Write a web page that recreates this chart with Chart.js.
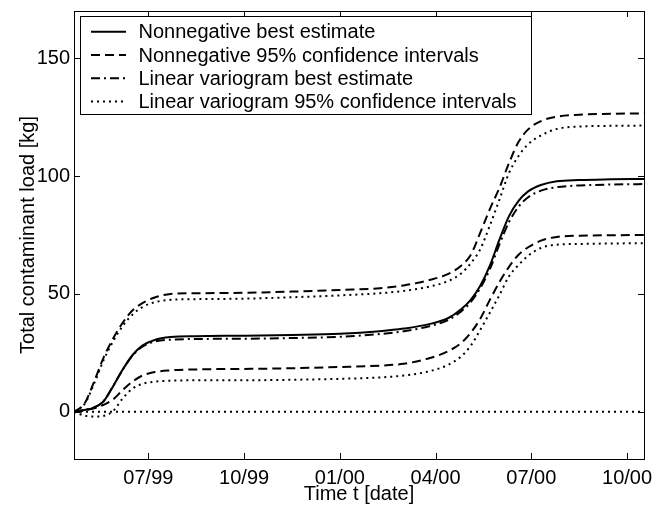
<!DOCTYPE html>
<html>
<head>
<meta charset="utf-8">
<script src="https://cdn.jsdelivr.net/npm/chart.js@4.4.1/dist/chart.umd.min.js"></script>
<style>
  body { margin: 0; background: #fff; }
</style>
</head>
<body>
<canvas id="chart" width="665" height="506"></canvas>
<script>
// Time in months counted from 07/99
const months = [-2.33, -2.0, -1.7, -1.4, -1.1, -0.8, -0.5, -0.2, 0.2, 0.7, 1.5, 3, 4.5, 6, 7.25, 8,
    8.8, 9.4, 9.8, 10.1, 10.4, 10.7, 11.0, 11.3, 11.6, 11.9, 12.3, 12.8, 13.5, 14.5, 15.53];

const nnBest = [0, 0.8, 1.8, 4.5, 11, 18, 24, 28, 30.5, 31.7, 32.1, 32.3, 32.6, 33.1, 34.2, 35.3,
    37.2, 39.8, 43.5, 47.5, 53.5, 62, 73, 83, 89.5, 93.5, 96.2, 97.8, 98.3, 98.6, 98.8];
const nnUpper = [0, 3.5, 12.8, 23.1, 31.2, 37.9, 43, 46, 48.5, 50, 50.3, 50.5, 51, 51.7, 52.4, 53.6,
    55.9, 58.5, 62, 66.5, 76, 86, 95, 105.5, 114.5, 119.8, 123.3, 125.2, 126, 126.4, 126.6];
const nnLower = [0, 0.6, 1.5, 3, 5.3, 9.3, 12.8, 15.3, 16.9, 17.6, 18, 18.2, 18.5, 19, 19.6, 20.4,
    22.7, 25.8, 29.2, 33.5, 39.5, 47.5, 55, 61.5, 66.6, 69.8, 72.6, 74.2, 74.7, 74.9, 75];
const lvBest = [0, 0.8, 1.9, 4.6, 11, 18, 23.8, 27.5, 29.8, 30.6, 30.9, 31, 31.3, 31.8, 33.0, 34.2,
    36.3, 39.0, 42.6, 46.5, 52.5, 60.5, 71, 80.5, 87, 91, 93.8, 95.3, 96, 96.4, 96.6];
const lvUpper = [0, 3.3, 12, 22, 30, 36.5, 41.2, 44.3, 46.5, 47.5, 47.8, 48, 48.6, 49.4, 50.3, 51.3,
    53.1, 55.5, 58.7, 63, 69, 79, 90, 101.3, 108.5, 113.5, 117.2, 120, 121, 121.3, 121.4];
const lvLower = [0, -1.6, -2.0, -1.7, 0.4, 5.8, 9.8, 11.8, 12.8, 13.2, 13.4, 13.4, 13.6, 14, 14.6, 15.4,
    17.2, 20, 23.5, 28, 34.8, 42, 49.5, 57.5, 62.3, 66.2, 69.5, 70.9, 71.2, 71.4, 71.5];
const zeroLine = months.map(() => 0);

const xTickPos = [0, 3, 6, 9, 12, 15];
const xTickLabels = ['07/99', '10/99', '01/00', '04/00', '07/00', '10/00'];
const yTickPos = [0, 50, 100, 150];

const legendLabels = [
    'Nonnegative best estimate',
    'Nonnegative 95% confidence intervals',
    'Linear variogram best estimate',
    'Linear variogram 95% confidence intervals'
];

const FONT = { family: '"Liberation Sans", Arial, Helvetica, sans-serif', size: 20 };
const DASHED = [9, 5];
const DASHDOT = [9, 4, 2, 4];
const DOTTED = [2, 4];
const legendDashes = [[], DASHED, DASHDOT, DOTTED];

function toPoints(values) {
    return values.map((v, i) => ({ x: months[i], y: v }));
}

function line(label, values, dash) {
    return {
        label: label,
        data: toPoints(values),
        borderColor: '#000',
        borderWidth: 2,
        borderDash: dash,
        pointRadius: 0,
        fill: false,
        cubicInterpolationMode: 'monotone'
    };
}

// no extra room for half tick labels, the plot box is fixed
function noPad(s) {
    s.paddingTop = 0;
    s.paddingBottom = 0;
    s.paddingLeft = 0;
    s.paddingRight = 0;
}

// Box around the plot with inward ticks on every side, plus the legend
const framePlugin = {
    id: 'frame',
    afterDatasetsDraw(chart) {
        const { ctx, chartArea: a, scales: { x, y } } = chart;
        const len = 6;
        ctx.save();
        ctx.strokeStyle = '#000';
        ctx.lineWidth = 1;
        ctx.strokeRect(a.left + 0.5, a.top + 0.5, a.right - a.left, a.bottom - a.top);
        ctx.beginPath();
        xTickPos.forEach(v => {
            const px = Math.round(x.getPixelForValue(v)) + 0.5;
            ctx.moveTo(px, a.bottom); ctx.lineTo(px, a.bottom - len);
            ctx.moveTo(px, a.top); ctx.lineTo(px, a.top + len);
        });
        yTickPos.forEach(v => {
            const py = Math.round(y.getPixelForValue(v)) + 0.5;
            ctx.moveTo(a.left, py); ctx.lineTo(a.left + len, py);
            ctx.moveTo(a.right, py); ctx.lineTo(a.right - len, py);
        });
        ctx.stroke();
        ctx.restore();
    },
    afterDraw(chart) {
        const ctx = chart.ctx;
        const box = { x: 80.5, y: 16.5, w: 451, h: 98 };
        ctx.save();
        ctx.fillStyle = '#fff';
        ctx.fillRect(box.x, box.y, box.w, box.h);
        ctx.strokeStyle = '#000';
        ctx.lineWidth = 1;
        ctx.strokeRect(box.x, box.y, box.w, box.h);
        ctx.font = FONT.size + 'px ' + FONT.family;
        ctx.textBaseline = 'middle';
        ctx.fillStyle = '#000';
        legendLabels.forEach((label, i) => {
            const rowY = 31.7 + i * 23.3;
            ctx.beginPath();
            ctx.setLineDash(legendDashes[i]);
            ctx.lineWidth = 2;
            ctx.moveTo(91, rowY);
            ctx.lineTo(126, rowY);
            ctx.stroke();
            ctx.setLineDash([]);
            ctx.fillText(label, 138.5, rowY + 1);
        });
        ctx.restore();
    }
};

new Chart(document.getElementById('chart'), {
    type: 'line',
    data: {
        datasets: [
            line(legendLabels[0], nnBest, []),
            line(legendLabels[1], nnUpper, DASHED),
            line(legendLabels[1], nnLower, DASHED),
            line(legendLabels[2], lvBest, DASHDOT),
            line(legendLabels[3], lvUpper, DOTTED),
            line(legendLabels[3], lvLower, DOTTED),
            line('', zeroLine, DOTTED)
        ]
    },
    options: {
        responsive: false,
        animation: false,
        layout: { padding: { top: 11, right: 21, left: 0, bottom: 0 } },
        plugins: {
            legend: { display: false },
            tooltip: { enabled: false }
        },
        scales: {
            x: {
                type: 'linear',
                min: -2.33,
                max: 15.53,
                afterBuildTicks: s => { s.ticks = xTickPos.map(v => ({ value: v })); },
                afterFit: s => { s.height = 47; noPad(s); },
                grid: { display: false, drawTicks: false },
                border: { display: false },
                ticks: {
                    color: '#000',
                    font: FONT,
                    padding: 7,
                    maxRotation: 0,
                    autoSkip: false,
                    callback: v => xTickLabels[xTickPos.indexOf(v)]
                },
                title: {
                    display: true,
                    text: 'Time t [date]',
                    color: '#000',
                    font: FONT,
                    padding: { top: 0, bottom: 0 }
                }
            },
            y: {
                min: -20,
                max: 170,
                afterBuildTicks: s => { s.ticks = yTickPos.map(v => ({ value: v })); },
                afterFit: s => { s.width = 74; noPad(s); },
                grid: { display: false, drawTicks: false },
                border: { display: false },
                ticks: { color: '#000', font: FONT, padding: 4 },
                title: {
                    display: true,
                    text: 'Total contaminant load [kg]',
                    color: '#000',
                    font: FONT,
                    padding: { top: 16, bottom: 0 }
                }
            }
        }
    },
    plugins: [framePlugin]
});
</script>
</body>
</html>
